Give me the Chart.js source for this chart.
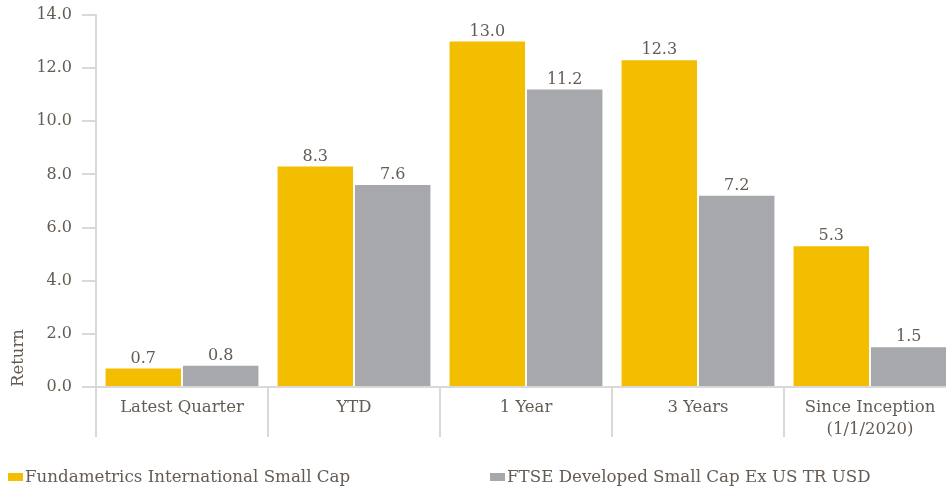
<!DOCTYPE html>
<html>
<head>
<meta charset="utf-8">
<script src="https://cdn.jsdelivr.net/npm/chart.js@4/dist/chart.umd.min.js"></script>
<style>
  html, body { margin: 0; padding: 0; overflow: hidden; background: #fff; }
  #wrap { width: 960px; height: 486px; }
</style>
</head>
<body>
<div id="wrap"><canvas id="myChart" width="960" height="486"></canvas></div>
<script>
const categories = ['Latest Quarter', 'YTD', '1 Year', '3 Years', ['Since Inception', '(1/1/2020)']];
const fundLabel = 'Fundametrics International Small Cap';
const fundValues = [0.7, 8.3, 13.0, 12.3, 5.3];
const benchLabel = 'FTSE Developed Small Cap Ex US TR USD';
const benchValues = [0.8, 7.6, 11.2, 7.2, 1.5];
const yTicks = { min: 0, max: 14, step: 2 };

const textColor = '#645c54';
const lineColor = '#d9d9d9';
const font = 'DejaVu Serif';

// values on top of each bar
const barLabels = {
  id: 'barLabels',
  afterDatasetsDraw(chart) {
    const ctx = chart.ctx;
    ctx.save();
    ctx.font = '16px "' + font + '"';
    ctx.fillStyle = textColor;
    ctx.textAlign = 'center';
    ctx.textBaseline = 'bottom';
    chart.data.datasets.forEach((ds, i) => {
      chart.getDatasetMeta(i).data.forEach((bar, j) => {
        ctx.fillText(ds.data[j].toFixed(1), bar.x, bar.y - 2);
      });
    });
    ctx.restore();
  }
};

// legend at the bottom, spread like the original
const bottomLegend = {
  id: 'bottomLegend',
  afterDraw(chart) {
    const ctx = chart.ctx;
    const xs = [8, 490];
    ctx.save();
    ctx.font = '16.7px "' + font + '"';
    ctx.textBaseline = 'middle';
    ctx.textAlign = 'left';
    chart.data.datasets.forEach((ds, i) => {
      ctx.fillStyle = ds.backgroundColor;
      ctx.fillRect(xs[i], 473, 15, 8);
      ctx.fillStyle = textColor;
      ctx.fillText(ds.label, xs[i] + 17, 478);
    });
    ctx.restore();
  }
};

const ctx = document.getElementById('myChart').getContext('2d');
new Chart(ctx, {
  type: 'bar',
  data: {
    labels: categories,
    datasets: [
      { label: fundLabel, data: fundValues, backgroundColor: '#f4be00' },
      { label: benchLabel, data: benchValues, backgroundColor: '#a7a8ab' }
    ]
  },
  options: {
    responsive: false,
    animation: false,
    devicePixelRatio: 1,
    layout: { padding: { top: 15, right: 4, left: 0, bottom: 0 } },
    datasets: { bar: { categoryPercentage: 0.9, barPercentage: 0.975 } },
    plugins: { legend: { display: false }, tooltip: { enabled: false } },
    scales: {
      x: {
        offset: true,
        grid: {
          offset: true,
          drawOnChartArea: false,
          color: lineColor,
          lineWidth: 2,
          tickLength: 50
        },
        border: { color: lineColor, width: 2 },
        ticks: {
          padding: -41,
          color: textColor,
          font: { family: font, size: 16.5, lineHeight: 1.38 }
        },
        afterFit(scale) { scale.height = 99; }
      },
      y: {
        min: yTicks.min,
        max: yTicks.max,
        grid: {
          drawOnChartArea: false,
          color: lineColor,
          lineWidth: 2,
          tickLength: 14
        },
        border: { color: lineColor, width: 2 },
        ticks: {
          stepSize: yTicks.step,
          padding: 10,
          color: textColor,
          font: { family: font, size: 16 },
          callback: v => v.toFixed(1)
        },
        title: {
          display: true,
          text: 'Return',
          align: 'start',
          color: textColor,
          padding: { top: 9, bottom: 0 },
          font: { family: font, size: 16.5 }
        },
        afterFit(scale) {
          scale.width = 96;
          scale.paddingTop = 0;
          scale.paddingBottom = 0;
        }
      }
    }
  },
  plugins: [barLabels, bottomLegend]
});
</script>
</body>
</html>
